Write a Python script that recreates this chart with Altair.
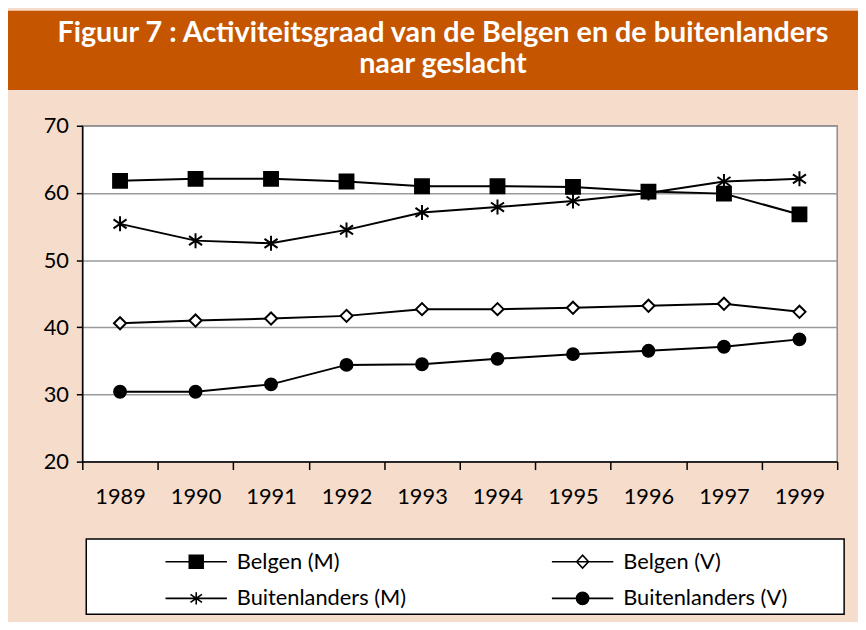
import altair as alt
import pandas as pd

years = ["1989", "1990", "1991", "1992", "1993", "1994", "1995", "1996", "1997", "1999"]
series_names = ["Belgen (M)", "Belgen (V)", "Buitenlanders (M)", "Buitenlanders (V)"]
belgen_m = [61.8, 62.1, 62.1, 61.7, 61.0, 61.0, 60.9, 60.2, 59.9, 56.8]
belgen_v = [40.6, 41.0, 41.3, 41.7, 42.7, 42.7, 42.9, 43.2, 43.5, 42.3]
buiten_m = [55.4, 52.9, 52.5, 54.5, 57.1, 57.9, 58.8, 60.0, 61.7, 62.1]
buiten_v = [30.4, 30.4, 31.5, 34.4, 34.5, 35.3, 36.0, 36.5, 37.1, 38.2]
y_ticks = [20, 30, 40, 50, 60, 70]
title_lines = ["Figuur 7 : Activiteitsgraad van de Belgen en de buitenlanders", "naar geslacht"]

rows = []
for name, vals in zip(series_names, [belgen_m, belgen_v, buiten_m, buiten_v]):
    for yr, v in zip(years, vals):
        rows.append({"year": yr, "series": name, "value": v})
df = pd.DataFrame(rows)

FONT = "Lato"
STAR = "M0,-1L0,1M-0.87,-0.6L0.87,0.6M-0.87,0.6L0.87,-0.6"
point_shapes = ["square", "diamond", STAR, "circle"]
point_fills = ["black", "white", "black", "black"]
point_strokes = ["black", "black", "black", "black"]
point_sizes = [196, 150, 230, 144]

legend_shapes = [
    "M-3.1,0H3.1M-0.7,-0.65H0.7V0.65H-0.7Z",
    "M-3.1,0H3.1M-0.6,0L0,-0.65L0.6,0L0,0.65Z",
    "M-3.1,0H3.1M0,-0.62L0,0.62M-0.58,-0.4L0.58,0.4M-0.58,0.4L0.58,-0.4",
    "M-3.1,0H3.1M0.62,0A0.62,0.62,0,1,1,-0.62,0A0.62,0.62,0,1,1,0.62,0Z",
]

x_enc = alt.X("year:N", sort=years, title=None,
              scale=alt.Scale(paddingInner=0, paddingOuter=0),
              axis=alt.Axis(labelAngle=0, tickBand="extent", tickSize=8, labelPadding=17,
                            labelFontSize=22, labelFont=FONT, labelColor="black",
                            domainColor="black", domainWidth=1.5, tickColor="black",
                            tickWidth=1.5, grid=False))
y_enc = alt.Y("value:Q", title=None,
              scale=alt.Scale(domain=[20, 70], nice=False, zero=False),
              axis=alt.Axis(values=y_ticks, tickSize=6, labelPadding=8, labelFontSize=22,
                            labelFont=FONT, labelColor="black", domainColor="black",
                            domainWidth=1.5, tickColor="black", tickWidth=1.5,
                            grid=True, gridColor="#9a9a9a", gridWidth=1.5))

base = alt.Chart(df)

lines = base.mark_line(color="black", strokeWidth=2).encode(
    x=x_enc, y=y_enc, detail="series:N")

point_layers = []
for name, shp, fil, sz in zip(series_names, point_shapes, point_fills, point_sizes):
    point_layers.append(
        base.transform_filter(alt.datum.series == name).mark_point(
            shape=shp, filled=True, fill=fil, stroke="black", strokeWidth=2,
            size=sz, opacity=1).encode(x=x_enc, y=y_enc)
    )

leg = alt.Legend(title=None, orient="none", legendX=104, legendY=429, columns=2,
                 direction="horizontal", columnPadding=143, rowPadding=15, symbolSize=400,
                 labelFontSize=22, labelFont=FONT, labelColor="black", labelOffset=30,
                 labelLimit=400, symbolStrokeColor="black", symbolStrokeWidth=1.6,
                 symbolOpacity=1)

legend_layer = base.transform_filter("false").mark_point(
    filled=False, stroke="black", strokeWidth=1.6, opacity=1).encode(
    x=x_enc, y=y_enc,
    shape=alt.Shape("series:N", scale=alt.Scale(domain=series_names, range=legend_shapes), legend=leg),
    fill=alt.Fill("series:N", scale=alt.Scale(domain=series_names, range=point_fills), legend=leg),
    stroke=alt.Stroke("series:N", scale=alt.Scale(domain=series_names, range=point_strokes), legend=leg),
)

one = pd.DataFrame({"k": [0]})
title_band = alt.Chart(one).mark_rect(fill="#C65500").encode(
    x=alt.value(-79), x2=alt.value(783), y=alt.value(-116), y2=alt.value(-36))
title_text = alt.Chart(one).mark_text(
    text=title_lines, color="white", fontSize=29, font=FONT, fontWeight="bold",
    align="center", baseline="middle", lineHeight=32).encode(
    x=alt.value(364), y=alt.value(-94))
legend_box = alt.Chart(one).mark_rect(fill="white", stroke="black", strokeWidth=1.5).encode(
    x=alt.value(4), x2=alt.value(769), y=alt.value(417), y2=alt.value(493))

chart = alt.layer(title_band, title_text, legend_box, lines, *point_layers, legend_layer).properties(
    width=762, height=339,
    autosize=alt.AutoSizeParams(type="none"),
    padding={"left": 75, "top": 116, "right": 21, "bottom": 159},
    background="#F5DCCB",
).configure_view(fill="white", stroke="#8c8c8c", strokeWidth=1.5)

chart.save("out.html", embed_options={"renderer": "svg", "actions": False})
